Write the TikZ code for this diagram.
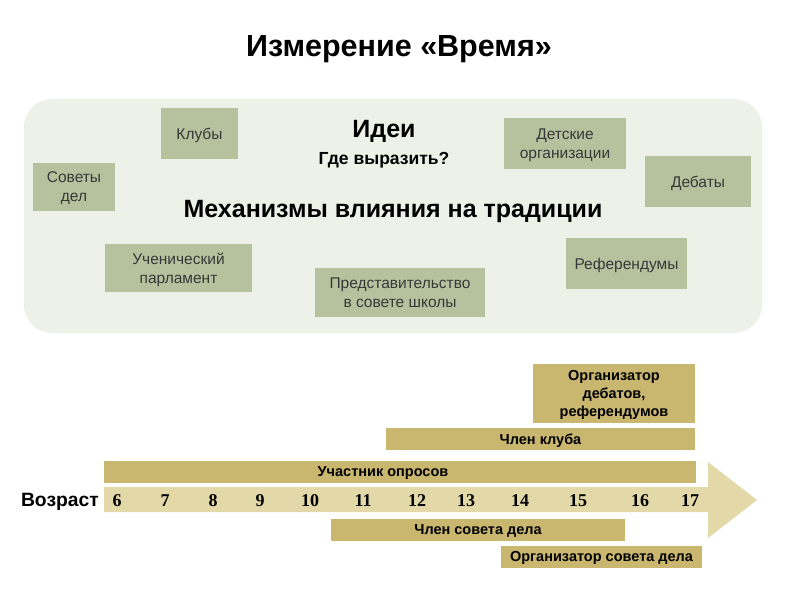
\documentclass[tikz,border=0pt]{standalone}
\usepackage{fontspec}
\setmainfont{Liberation Sans}
\newfontfamily\numfont{Liberation Serif}
\usetikzlibrary{positioning}

\definecolor{panelbg}{HTML}{EEF1E7}
\definecolor{ideagreen}{HTML}{B6C29E}
\definecolor{bargold}{HTML}{C9B66F}
\definecolor{agelight}{HTML}{E3D8A8}

\begin{document}
\begin{tikzpicture}[
  x=1pt, y=-1pt,
  idea/.style={fill=ideagreen, align=center, inner sep=0pt, text depth=0pt, text=black!78, font=\fontsize{15.5}{19}\selectfont},
  bar/.style={fill=bargold, align=center, inner sep=0pt, text depth=0pt, minimum height=22pt, font=\bfseries\fontsize{14.5}{18}\selectfont},
  age/.style={font=\numfont\bfseries\fontsize{18}{20}\selectfont, inner sep=0pt},
  head/.style={font=\bfseries, inner sep=0pt, text depth=0pt}
]
\useasboundingbox (0,0) rectangle (799,599);

% title
\node[head, font=\bfseries\fontsize{30.5}{34}\selectfont] (title) at (399,46) {Измерение «Время»};

% panel with mechanisms
\fill[panelbg, rounded corners=28pt] (24,99) rectangle (762,333);
\node[head, font=\bfseries\fontsize{25}{29}\selectfont] (ideas) at (384,129) {Идеи};
\node[head, font=\bfseries\fontsize{17.5}{20}\selectfont] (where) at (384,158) {Где выразить?};
\node[head, font=\bfseries\fontsize{25}{29}\selectfont] (mech) at (393,209) {Механизмы влияния на традиции};

\node[idea, minimum width=77pt, minimum height=51pt] (clubs) at (199.5,133.5) {Клубы};
\node[idea, minimum width=82pt, minimum height=48pt] (councils) at (74,187) {Советы\\дел};
\node[idea, minimum width=147pt, minimum height=48pt] (parl) at (178.5,268) {Ученический\\парламент};
\node[idea, minimum width=170pt, minimum height=49pt] (repr) at (400,292.5) {Представительство\\в совете школы};
\node[idea, minimum width=122pt, minimum height=51pt] (orgs) at (565,143.5) {Детские\\организации};
\node[idea, minimum width=106pt, minimum height=51pt] (debates) at (698,181.5) {Дебаты};
\node[idea, minimum width=121pt, minimum height=51pt] (refs) at (626.5,263.5) {Референдумы};

% age arrow
\fill[agelight] (104,487) -- (708,487) -- (708,462) -- (757,500) -- (708,538) -- (708,512) -- (104,512) -- cycle;
\node[head, font=\bfseries\fontsize{19.3}{22}\selectfont, anchor=east] (agelabel) at (99,500) {Возраст};
\foreach \a/\x in {6/117, 7/165, 8/213, 9/260, 10/310, 11/363, 12/417, 13/466, 14/520, 15/578, 16/640, 17/690}
  \node[age] (age\a) at (\x,501) {\a};

% roles
\node[bar, minimum width=162pt, minimum height=59pt] (orgdeb) at (614,393.5) {Организатор\\дебатов,\\референдумов};
\node[bar, minimum width=309pt] (member) at (540.5,439) {Член клуба};
\node[bar, minimum width=592pt] (poll) at (400,472) {};
\node[head, font=\bfseries\fontsize{14.5}{17}\selectfont] (polltext) at (383,472) {Участник опросов};
\node[bar, minimum width=294pt] (council) at (478,529.5) {Член совета дела};
\node[bar, minimum width=201pt] (orgcouncil) at (601.5,556.5) {Организатор совета дела};

\end{tikzpicture}
\end{document}
